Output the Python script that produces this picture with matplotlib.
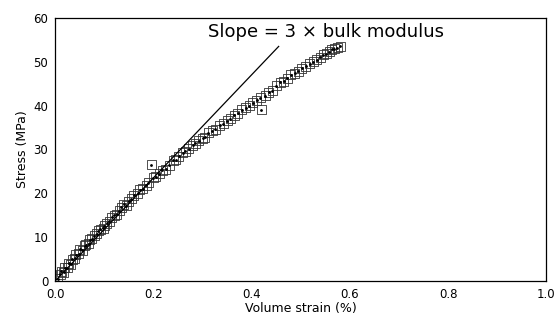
import matplotlib.pyplot as plt

strain = [0.005, 0.010, 0.012, 0.018, 0.020, 0.025, 0.028, 0.032, 0.035, 0.040,
          0.042, 0.048, 0.050, 0.055, 0.060, 0.062, 0.068, 0.070, 0.075, 0.080,
          0.085, 0.088, 0.092, 0.098, 0.100, 0.105, 0.110, 0.115, 0.120, 0.125,
          0.130, 0.135, 0.140, 0.145, 0.150, 0.155, 0.160, 0.168, 0.172, 0.178,
          0.185, 0.190, 0.196, 0.200, 0.205, 0.212, 0.218, 0.225, 0.232, 0.240,
          0.245, 0.252, 0.260, 0.265, 0.272, 0.280, 0.285, 0.292, 0.300, 0.305,
          0.312, 0.320, 0.326, 0.335, 0.342, 0.350, 0.356, 0.365, 0.372, 0.380,
          0.388, 0.395, 0.402, 0.410, 0.418, 0.420, 0.428, 0.435, 0.442, 0.450,
          0.458, 0.465, 0.472, 0.480, 0.488, 0.495, 0.502, 0.510, 0.518, 0.525,
          0.532, 0.540, 0.546, 0.552, 0.558, 0.563, 0.568, 0.574, 0.580]
stress = [0.5, 1.5, 2.2, 2.0, 3.0, 3.0, 4.0, 3.8, 5.0, 5.2,
          6.0, 6.2, 7.2, 7.0, 8.0, 8.3, 8.5, 9.4, 9.6, 10.3,
          10.8, 11.5, 11.8, 12.0, 12.6, 13.2, 13.6, 14.5, 15.0, 15.2,
          16.0, 16.8, 17.5, 17.2, 18.2, 18.8, 19.5, 20.0, 20.8, 21.0,
          21.8, 22.4, 26.5, 23.5, 23.8, 24.4, 25.2, 25.5, 26.4, 27.5,
          27.6, 28.4, 29.3, 29.6, 30.2, 31.0, 31.4, 32.0, 32.6, 32.8,
          33.8, 34.3, 34.6, 35.5, 35.9, 36.6, 37.0, 37.8, 38.2, 39.0,
          39.5, 40.0, 40.6, 41.2, 41.8, 39.0, 42.3, 43.0, 43.4, 44.5,
          45.3, 45.6, 46.2, 47.0, 47.4, 47.8, 48.5, 49.0, 49.6, 50.0,
          50.5, 51.0, 51.6, 51.8, 52.3, 52.8, 53.0, 53.2, 53.5]

# Reference line: slope = 3 x bulk modulus
line_strain = [0.0, 0.455]
line_stress = [0.0, 53.5]

x_ticks = [0.0, 0.2, 0.4, 0.6, 0.8, 1.0]
x_tick_labels = ['0.0', '0.2', '0.4', '0.6', '0.8', '1.0']
y_ticks = [0, 10, 20, 30, 40, 50, 60]

fig = plt.figure(figsize=(5.57, 3.2), dpi=100)
ax = fig.add_axes([0.099, 0.122, 0.882, 0.822])

ax.plot(line_strain, line_stress, color='black', lw=0.9)
ax.scatter(strain, stress, marker='s', s=42, facecolors='none',
           edgecolors='#333333', linewidths=0.6)
ax.scatter(strain, stress, marker='.', s=4, color='black')

ax.text(0.312, 56.8, 'Slope = 3 \u00d7 bulk modulus', fontsize=13,
        va='center', ha='left')

ax.set_xlim(0, 1.0)
ax.set_ylim(0, 60)
ax.set_xticks(x_ticks)
ax.set_xticklabels(x_tick_labels)
ax.set_yticks(y_ticks)
ax.tick_params(length=0, labelsize=8.5, pad=5)
ax.set_xlabel('Volume strain (%)', fontsize=9, labelpad=1)
ax.set_ylabel('Stress (MPa)', fontsize=9, labelpad=3)
for s in ax.spines.values():
    s.set_linewidth(0.9)

fig.savefig('out.png', dpi=100)
